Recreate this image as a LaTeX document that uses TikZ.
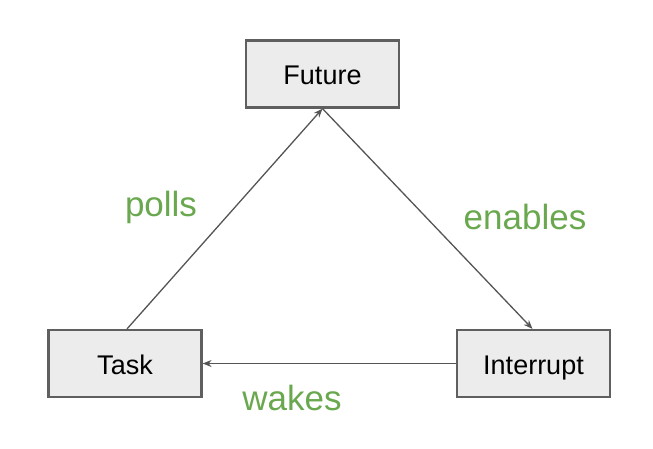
\documentclass[tikz,border=0pt]{standalone}
\usepackage{fontspec}
\setmainfont{Liberation Sans}
\usetikzlibrary{arrows.meta}
\definecolor{boxfill}{HTML}{ECECEC}
\definecolor{boxline}{HTML}{5F5F5F}
\definecolor{arrowc}{HTML}{555555}
\definecolor{lblgreen}{HTML}{6AA84F}
\tikzset{
  box/.style={draw=boxline, line width=2.2pt, fill=boxfill, minimum width=153pt, minimum height=67pt, inner sep=0pt, text height=23pt, text depth=2pt, font=\fontsize{27}{32}\selectfont, text=black},
  conn/.style={draw=arrowc, line width=1.3pt, -{Stealth[length=9pt,width=7pt]}},
  lbl/.style={text=lblgreen, font=\fontsize{35}{40}\selectfont, inner sep=0pt}
}
\begin{document}
\begin{tikzpicture}[x=1pt,y=-1pt]
\useasboundingbox (0,0) rectangle (653,448);
\node[box] (future) at (322.5,74) {Future};
\node[box] (task) at (125,363.5) {Task};
\node[box] (interrupt) at (533.5,363.5) {Interrupt};
\coordinate (t1) at ([xshift=2pt]task.north);
\draw[conn] (t1) -- (future.south);
\draw[conn] (future.south) -- ([xshift=-1pt]interrupt.north);
\draw[conn] (interrupt.west) -- (task.east);
\node[lbl] (polls) at (161,207) {polls};
\node[lbl] (enables) at (525,217) {enables};
\node[lbl] (wakes) at (292,398) {wakes};
\end{tikzpicture}
\end{document}
